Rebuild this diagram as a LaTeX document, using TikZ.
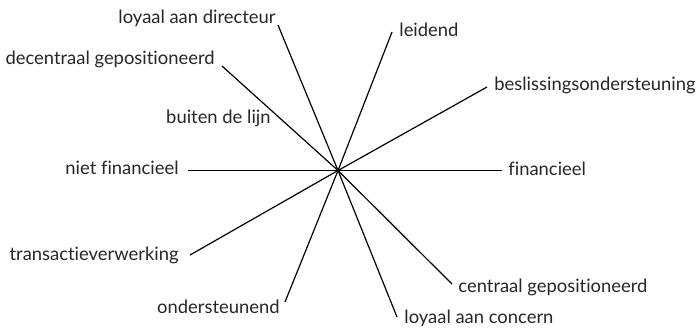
\documentclass[tikz,border=0pt]{standalone}
\usepackage{fontspec}
\setmainfont[Ligatures={TeX,NoCommon}]{Lato}
\usetikzlibrary{positioning}
\tikzset{
  spoke/.style={draw=black,line width=0.6pt},
  pole/.style={inner sep=0pt,font=\fontsize{9.2}{11}\selectfont,text=black!85},
}
\begin{document}
\begin{tikzpicture}[x=0.5pt,y=-0.5pt]
  \useasboundingbox (0,0) rectangle (699,329);
  \coordinate (c) at (338,170.5);
  % spokes with their labels
  \foreach \n/\ex/\ey/\lx/\ly/\a/\t in {
      dir/278/25/276/23/base east/loyaal aan directeur,
      dec/222/66/215/64/base east/decentraal gepositioneerd,
      nfin/188/170.5/179/174/base east/niet financieel,
      trans/190/255/179/260/base east/transactieverwerking,
      ond/285/302/280/313/base east/ondersteunend,
      leid/392/32/399/36/base west/leidend,
      besl/487/87/494/90/base west/beslissingsondersteuning,
      fin/502/170.5/508/175/base west/financieel,
      cen/452/284/458/292/base west/centraal gepositioneerd,
      con/397/317/404/323/base west/loyaal aan concern}{
    \coordinate (e\n) at (\ex,\ey);
    \node[pole,anchor=\a] (l\n) at (\lx,\ly) {\t};
    \draw[spoke] (c) -- (e\n);
  }
  \node[pole,anchor=base east] (lbuiten) at (271,123) {buiten de lijn};
\end{tikzpicture}
\end{document}
